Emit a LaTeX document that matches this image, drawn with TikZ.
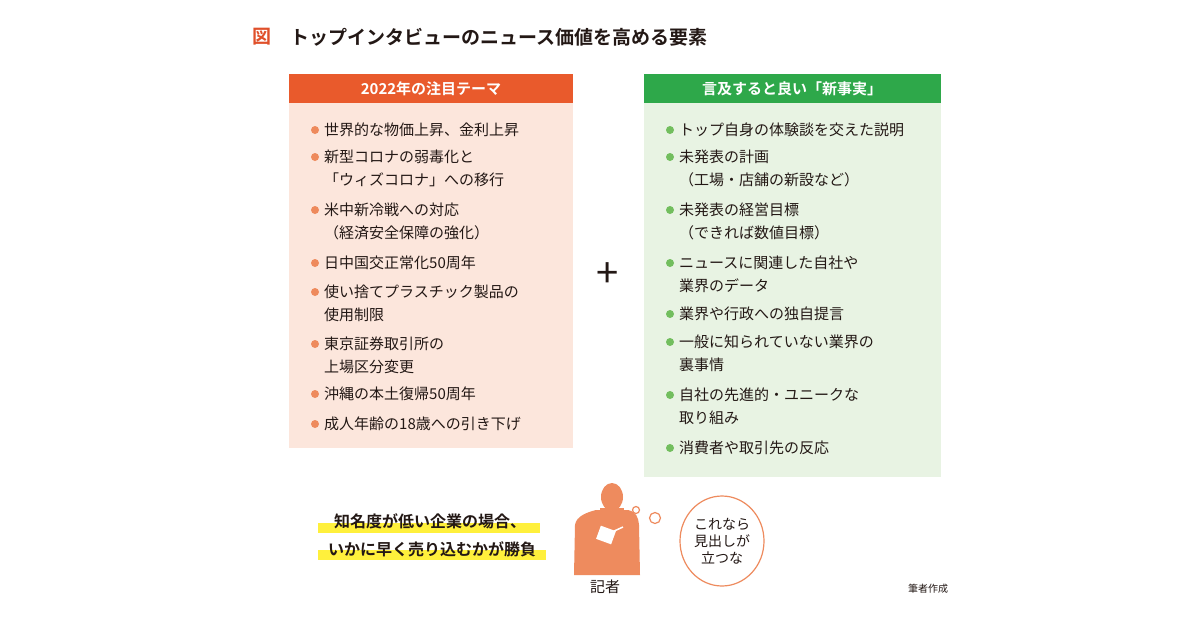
\documentclass[tikz,border=0pt]{standalone}
\usepackage{fontspec}
\setmainfont{Noto Sans CJK JP}
\newfontfamily\bfjp{Noto Sans CJK JP Bold}
\definecolor{tred}{HTML}{E0502A}
\definecolor{ohead}{HTML}{E95A2C}
\definecolor{obody}{HTML}{FCE6DC}
\definecolor{ghead}{HTML}{2EA84A}
\definecolor{gbody}{HTML}{E8F3E3}
\definecolor{obul}{HTML}{EE8A5C}
\definecolor{gbul}{HTML}{72BE5E}
\definecolor{txt}{HTML}{231815}
\definecolor{pers}{HTML}{EE8B5E}
\definecolor{hl}{HTML}{FFF03C}
\begin{document}
\begin{tikzpicture}[x=1pt,y=-1pt,
  item/.style={anchor=west,font=\fontsize{15}{15}\selectfont,text=txt,inner sep=0pt},
  hdr/.style={font=\bfjp\fontsize{15}{15}\selectfont,text=white},
  ob/.style={circle,fill=obul,minimum size=8pt,inner sep=0pt},
  gb/.style={circle,fill=gbul,minimum size=8pt,inner sep=0pt}]
\useasboundingbox (0,0) rectangle (1200,630);
\fill[white] (0,0) rectangle (1200,630);
\node[anchor=west,font=\bfjp\fontsize{19}{19}\selectfont,text=tred,inner sep=0pt] (fig) at (252,37) {図};
\node[anchor=west,font=\bfjp\fontsize{19}{19}\selectfont,text=txt,inner sep=0pt] (title) at (290,37) {トップインタビューのニュース価値を高める要素};
% left box
\fill[obody] (289,103) rectangle (573,448);
\fill[ohead] (289,74) rectangle (573,103);
\node[hdr] (lh) at (431,89) {2022年の注目テーマ};
% right box
\fill[gbody] (644,103) rectangle (941,477);
\fill[ghead] (644,74) rectangle (941,103);
\node[hdr] (rh) at (792,89) {言及すると良い「新事実」};
% left items
\foreach \y/\t/\b in {130/世界的な物価上昇、金利上昇/1,157/新型コロナの弱毒化と/1,180/「ウィズコロナ」への移行/0,210/米中新冷戦への対応/1,233/（経済安全保障の強化）/0,263/日中国交正常化50周年/1,292/使い捨てプラスチック製品の/1,315/使用制限/0,344/東京証券取引所の/1,367/上場区分変更/0,394/沖縄の本土復帰50周年/1,424/成人年齢の18歳への引き下げ/1}{
  \node[item] at (324,\y) {\t};
  \ifnum\b=1 \node[ob] at (315,\y) {};\fi
}
\foreach \y/\t/\b in {130/トップ自身の体験談を交えた説明/1,157/未発表の計画/1,180/（工場・店舗の新設など）/0,210/未発表の経営目標/1,233/（できれば数値目標）/0,263/ニュースに関連した自社や/1,286/業界のデータ/0,314/業界や行政への独自提言/1,342/一般に知られていない業界の/1,365/裏事情/0,395/自社の先進的・ユニークな/1,418/取り組み/0,448/消費者や取引先の反応/1}{
  \node[item] at (679,\y) {\t};
  \ifnum\b=1 \node[gb] at (670,\y) {};\fi
}
\node[font=\fontsize{40}{40}\selectfont,text=txt] (plus) at (608,275) {+};
% highlighted text
\fill[hl] (318,523) rectangle (540,533);
\fill[hl] (318,550) rectangle (546,560);
\node[font=\bfjp\fontsize{16}{16}\selectfont,text=txt,inner sep=0pt] (h1) at (430,521) {知名度が低い企業の場合、};
\node[font=\bfjp\fontsize{16}{16}\selectfont,text=txt,inner sep=0pt] (h2) at (432,549) {いかに早く売り込むかが勝負};
% person
\fill[pers] (612,497) ellipse (11 and 14);
\fill[pers] (596,510) -- (628,510) .. controls (636,512) and (638,516) .. (639,525) -- (640,575) -- (574,575) -- (575,525) .. controls (576,516) and (588,512) .. (596,510) -- cycle;
\fill[pers] (600,508) rectangle (624,514);
\fill[white,rotate around={-20:(606,535)}] (598,528) rectangle (614,542);
\draw[white,line width=1.5pt] (612,532) -- (623,527);
\node[font=\fontsize{15}{15}\selectfont,text=txt] (kisha) at (605,587) {記者};
% bubble
\draw[pers,line width=1.2pt,fill=white] (722,541) ellipse (42 and 45);
\draw[pers,line width=1.2pt] (636,510) circle (3.5);
\draw[pers,line width=1.2pt] (655,518) circle (5.5);
\node[align=center,font=\fontsize{14}{17}\selectfont,text=txt] (bub) at (722,541) {これなら\\見出しが\\立つな};
\node[font=\fontsize{10}{10}\selectfont,text=txt] (src) at (928,589) {筆者作成};
\end{tikzpicture}
\end{document}
